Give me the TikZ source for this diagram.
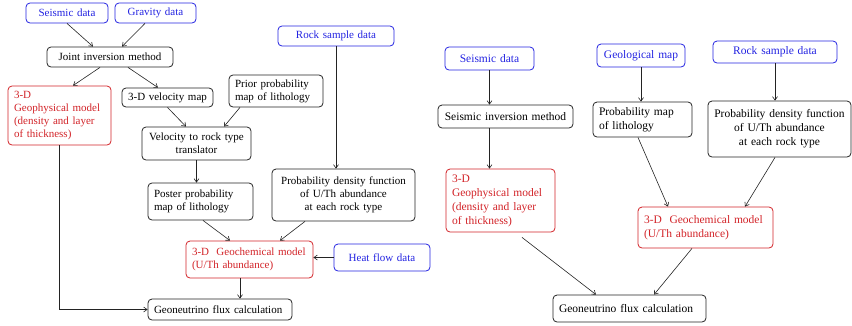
\documentclass[tikz,border=0pt]{standalone}
\usepackage{fontspec}
\setmainfont{Liberation Serif}
\usetikzlibrary{arrows.meta}
\definecolor{datablue}{RGB}{35,35,225}
\definecolor{modelred}{RGB}{210,35,40}
\definecolor{boxgray}{RGB}{35,35,35}
\begin{document}
\begin{tikzpicture}[
  x=1pt, y=-1pt,
  box/.style={draw=boxgray, rounded corners=4pt, line width=0.8pt,
    inner xsep=6pt, inner ysep=1pt, font=\fontsize{11}{13}\selectfont},
  bigbox/.style={box, font=\fontsize{11.5}{14}\selectfont},
  data/.style={draw=datablue, text=datablue, align=center},
  model/.style={draw=modelred, text=modelred, align=left},
  arr/.style={-{Straight Barb[length=3.5pt,width=5pt]}, line width=0.6pt, draw=boxgray}
]
\useasboundingbox (0,0) rectangle (852,325);
% left chart
\node[box, data, text width=70pt, minimum height=20pt] (seisA) at (67,13) {Seismic data};
\node[box, data, text width=69pt, minimum height=20pt] (grav) at (155.5,13) {Gravity data};
\node[box, align=center, text width=114pt, minimum height=20pt] (joint) at (110,57) {Joint inversion method};
\node[box, model, text width=91pt, minimum height=59pt] (geophysA) at (59.5,115.5)
  {3-D\\Geophysical model\\(density and layer\\of thickness)};
\node[box, align=center, text width=79pt, minimum height=19pt] (velmap) at (167.5,97.5) {3-D velocity map};
\node[box, align=left, text width=82pt, minimum height=32pt] (prior) at (276,91)
  {Prior probability\\map of lithology};
\node[box, align=center, text width=97pt, minimum height=33pt] (transl) at (196.5,143.5)
  {Velocity to rock type\\translator};
\node[box, data, text width=104pt, minimum height=20pt] (rockA) at (336,36) {Rock sample data};
\node[box, align=left, text width=93pt, minimum height=37pt] (poster) at (200.5,201.5)
  {Poster probability\\map of lithology};
\node[box, align=center, text width=131pt, minimum height=52pt] (pdfA) at (343.5,195)
  {Probability density function\\of U/Th abundance\\at each rock type};
\node[box, model, text width=115pt, minimum height=37pt] (geochemA) at (249.5,259.5)
  {3-D~~Geochemical model\\(U/Th abundance)};
\node[box, data, text width=84pt, minimum height=27pt] (heat) at (382,257.5) {Heat flow data};
\node[box, align=left, text width=132pt, minimum height=21pt] (fluxA) at (220,309.5)
  {Geoneutrino flux calculation};

\draw[arr] (seisA.south) -- ([xshift=-17pt]joint.north);
\draw[arr] ([xshift=-10.5pt]grav.south) -- ([xshift=12pt]joint.north);
\draw[arr] ([xshift=-10pt]joint.south) -- ([xshift=13.5pt]geophysA.north);
\draw[arr] ([xshift=18pt]joint.south) -- ([xshift=-9.5pt]velmap.north);
\draw[arr] (velmap.south) -- ([xshift=-10.5pt]transl.north);
\draw[arr] ([xshift=-36pt]prior.south) -- ([xshift=27.5pt]transl.north);
\draw[arr] (transl.south) -- (transl.south |- poster.north);
\draw[arr] (rockA.south) -- (rockA.south |- pdfA.north);
\draw[arr] ([xshift=2.5pt]poster.south) -- ([xshift=-19.5pt]geochemA.north);
\draw[arr] ([xshift=-38.5pt]pdfA.south) -- ([xshift=30.5pt]geochemA.north);
\draw[arr] (heat.west) -- (geochemA.east |- heat.west);
\draw[arr] ([xshift=-9.5pt]geochemA.south) -- ([xshift=-9.5pt]geochemA.south |- fluxA.north);
\draw[arr] (geophysA.south) -- (geophysA.south |- fluxA.west) -- (fluxA.west);

% right chart
\node[bigbox, data, text width=77pt, minimum height=23pt] (seisB) at (489.5,58.5) {Seismic data};
\node[bigbox, data, text width=76pt, minimum height=23pt] (geolog) at (641,55.5) {Geological map};
\node[bigbox, data, text width=112pt, minimum height=22pt] (rockB) at (775,52) {Rock sample data};
\node[bigbox, align=center, text width=123pt, minimum height=23pt] (invB) at (505.5,116.5)
  {Seismic inversion method};
\node[bigbox, align=left, text width=87pt, minimum height=35pt] (probmap) at (642.5,119.5)
  {Probability map\\of lithology};
\node[bigbox, align=center, inner xsep=4pt, text width=135pt, minimum height=56pt] (pdfB) at (779.5,129)
  {Probability density function\\of U/Th abundance\\at each rock type};
\node[bigbox, model, text width=97pt, minimum height=63pt] (geophysB) at (500.5,200.5)
  {3-D\\Geophysical model\\(density and layer\\of thickness)};
\node[bigbox, model, text width=123pt, minimum height=41pt] (geochemB) at (705.5,227.5)
  {3-D~~Geochemical model\\(U/Th abundance)};
\node[bigbox, align=left, text width=141pt, minimum height=27pt] (fluxB) at (629.5,308.5)
  {Geoneutrino flux calculation};

\draw[arr] (seisB.south) -- (seisB.south |- invB.north);
\draw[arr] (seisB.south |- invB.south) -- (seisB.south |- geophysB.north);
\draw[arr] (geolog.south) -- (geolog.south |- probmap.north);
\draw[arr] (rockB.south) -- (rockB.south |- pdfB.north);
\draw[arr] ([xshift=-4.5pt]probmap.south) -- ([xshift=-37.5pt]geochemB.north);
\draw[arr] ([xshift=-4.5pt]pdfB.south) -- ([xshift=39.5pt]geochemB.north);
\draw[arr] ([xshift=21.5pt,yshift=-5pt]geophysB.south) -- ([xshift=-33.5pt]fluxB.north);
\draw[arr] ([xshift=-13.5pt]geochemB.south) -- ([xshift=24.5pt]fluxB.north);
\end{tikzpicture}
\end{document}
